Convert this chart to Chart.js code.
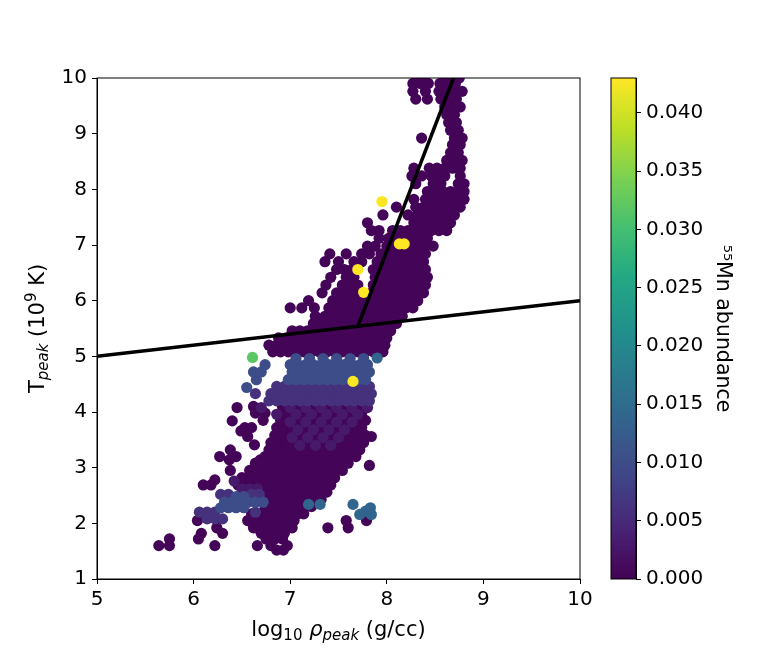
<!DOCTYPE html>
<html>
<head>
<meta charset="utf-8">
<script src="https://cdn.jsdelivr.net/npm/chart.js@4.4.1/dist/chart.umd.min.js"></script>
<style>
  html, body { margin: 0; padding: 0; background: #fff; }
  #wrap { position: relative; width: 778px; height: 650px; }
  #main { position: absolute; left: 0; top: 0; }
  #cbar { position: absolute; left: 590px; top: 0; }
</style>
</head>
<body>
<div id="wrap">
  <canvas id="main" width="778" height="650"></canvas>
  <canvas id="cbar" width="188" height="650"></canvas>
</div>
<script>
// rows: [T_peak, log10 rho values...], grouped by 55Mn abundance
const traceRows = [
  [1.52, 6.86, 6.93],
  [1.60, 5.64, 5.75, 6.22, 6.66, 6.80, 6.97],
  [1.72, 5.75, 6.05, 6.75, 6.84, 6.92],
  [1.82, 6.08, 6.30, 6.70, 6.78, 6.86, 6.94],
  [1.92, 6.24, 6.62, 6.70, 6.78, 6.86, 6.94, 7.02, 7.39, 7.60],
  [2.05, 6.04, 6.56, 6.64, 6.72, 6.80, 6.88, 6.96, 7.04, 7.58, 7.79],
  [2.17, 6.60, 6.68, 6.76, 6.84, 6.92, 7.00, 7.08, 7.14],
  [2.30, 6.74, 6.82, 6.90, 6.98, 7.06, 7.14, 7.22],
  [2.43, 6.68, 6.76, 6.84, 6.92, 7.00, 7.08, 7.16, 7.24, 7.32],
  [2.56, 6.74, 6.82, 6.90, 6.98, 7.06, 7.14, 7.22, 7.30, 7.38],
  [2.69, 6.10, 6.18, 6.46, 6.54, 6.62, 6.70, 6.78, 6.86, 6.94, 7.02, 7.10, 7.18, 7.26, 7.34, 7.42],
  [2.78, 6.22],
  [2.82, 6.50, 6.58, 6.66, 6.74, 6.82, 6.90, 6.98, 7.06, 7.14, 7.22, 7.30, 7.38, 7.46],
  [2.95, 6.38, 6.58, 6.66, 6.74, 6.82, 6.90, 6.98, 7.06, 7.14, 7.22, 7.30, 7.38, 7.46, 7.54],
  [3.04, 7.82],
  [3.08, 6.64, 6.72, 6.80, 6.88, 6.96, 7.04, 7.12, 7.20, 7.28, 7.36, 7.44, 7.52, 7.60],
  [3.14, 6.37, 6.69],
  [3.20, 6.27, 6.44, 6.74, 6.82, 6.90, 6.98, 7.06, 7.14, 7.22, 7.30, 7.38, 7.46, 7.54, 7.62, 7.68],
  [3.32, 6.38, 6.78, 6.86, 6.94, 7.02, 7.10, 7.18, 7.26, 7.34, 7.42, 7.50, 7.58, 7.66, 7.72],
  [3.41, 6.63],
  [3.45, 6.80, 6.88, 6.96, 7.04, 7.12, 7.20, 7.28, 7.36, 7.44, 7.52, 7.60, 7.68, 7.76],
  [3.56, 6.56, 7.84],
  [3.58, 6.84, 6.92, 7.00, 7.08, 7.16, 7.24, 7.32, 7.40, 7.48, 7.56, 7.64, 7.72, 7.78],
  [3.66, 6.49],
  [3.72, 6.53, 6.60, 6.86, 6.94, 7.02, 7.10, 7.18, 7.26, 7.34, 7.42, 7.50, 7.58, 7.66, 7.74],
  [3.84, 6.40],
  [3.85, 6.72, 6.90, 6.98, 7.06, 7.14, 7.22, 7.30, 7.38, 7.46, 7.54, 7.62, 7.70, 7.78],
  [3.98, 6.64, 6.74, 6.94, 7.02, 7.10, 7.18, 7.26, 7.34, 7.42, 7.50, 7.58, 7.66, 7.74],
  [4.08, 6.45],
  [4.10, 6.62, 6.92, 7.08, 7.24, 7.40, 7.56, 7.72],
  [5.08, 6.82, 6.90, 6.98, 7.06, 7.14, 7.22, 7.30, 7.38, 7.46, 7.54, 7.62, 7.70, 7.78, 7.86, 7.96],
  [5.20, 6.78, 6.86, 6.94, 7.02, 7.10, 7.18, 7.26, 7.34, 7.42, 7.50, 7.58, 7.66, 7.74, 7.82, 7.90, 7.98],
  [5.33, 6.88, 6.96, 7.04, 7.12, 7.20, 7.28, 7.36, 7.44, 7.52, 7.60, 7.68, 7.76, 7.84, 7.92, 8.00],
  [5.46, 7.02, 7.10, 7.18, 7.26, 7.34, 7.42, 7.50, 7.58, 7.66, 7.74, 7.82, 7.90, 7.98, 8.04],
  [5.59, 7.24, 7.30, 7.38, 7.46, 7.54, 7.62, 7.70, 7.78, 7.86, 7.94, 8.02, 8.10],
  [5.72, 7.26, 7.36, 7.44, 7.52, 7.60, 7.68, 7.76, 7.84, 7.92, 8.00, 8.08, 8.16],
  [5.87, 7.00, 7.12, 7.25, 7.40, 7.48, 7.56, 7.64, 7.72, 7.80, 7.88, 7.96, 8.04, 8.12, 8.20, 8.27],
  [6.00, 7.19, 7.44, 7.52, 7.60, 7.68, 7.76, 7.84, 7.92, 8.00, 8.08, 8.16, 8.24, 8.32],
  [6.14, 7.33, 7.48, 7.56, 7.64, 7.72, 7.84, 7.92, 8.00, 8.08, 8.16, 8.24, 8.32, 8.38],
  [6.28, 7.37, 7.54, 7.62, 7.70, 7.86, 7.94, 8.02, 8.10, 8.18, 8.26, 8.34, 8.40],
  [6.42, 7.42, 7.58, 7.66, 7.88, 7.96, 8.04, 8.12, 8.20, 8.28, 8.36, 8.42],
  [6.56, 7.48, 7.56, 7.64, 7.86, 7.94, 8.02, 8.10, 8.18, 8.26, 8.34, 8.40],
  [6.70, 7.36, 7.50, 7.66, 7.74, 7.90, 7.98, 8.06, 8.14, 8.22, 8.30, 8.38],
  [6.84, 7.41, 7.58, 7.74, 7.82, 7.94, 8.02, 8.10, 8.18, 8.26, 8.34, 8.40],
  [6.98, 7.80, 7.88, 8.00, 8.08, 8.16, 8.24, 8.32, 8.40, 8.48],
  [7.12, 7.92, 8.02, 8.10, 8.18, 8.26, 8.34, 8.42],
  [7.26, 7.84, 7.92, 8.06, 8.14, 8.22, 8.30, 8.38, 8.46, 8.54, 8.62],
  [7.40, 7.80, 8.28, 8.36, 8.44, 8.52, 8.60, 8.66],
  [7.54, 7.96, 8.22, 8.32, 8.40, 8.48, 8.56, 8.64, 8.70],
  [7.68, 8.10, 8.30, 8.38, 8.46, 8.54, 8.62, 8.70, 8.76],
  [7.82, 8.28, 8.40, 8.48, 8.56, 8.64, 8.72, 8.80],
  [7.96, 8.42, 8.50, 8.58, 8.66, 8.74, 8.80],
  [8.10, 8.30, 8.48, 8.56, 8.74, 8.80],
  [8.24, 8.26, 8.36, 8.46, 8.54, 8.60, 8.76],
  [8.38, 8.28, 8.44, 8.52, 8.60, 8.68, 8.76],
  [8.52, 8.62, 8.70, 8.78],
  [8.66, 8.66, 8.74],
  [8.80, 8.68, 8.76],
  [8.92, 8.36, 8.70, 8.78],
  [9.06, 8.66, 8.74],
  [9.20, 8.64, 8.72],
  [9.34, 8.62, 8.70],
  [9.48, 8.60, 8.68, 8.76],
  [9.62, 8.30, 8.42, 8.56, 8.64, 8.72],
  [9.76, 8.27, 8.40, 8.54, 8.62, 8.70, 8.78],
  [9.90, 8.27, 8.35, 8.43, 8.55, 8.63, 8.71],
  [10.0, 8.31, 8.39, 8.59, 8.67, 8.75]
];
const lowRows = [
  [2.62, 6.50, 6.58, 6.66],
  [2.76, 6.42],
  [3.40, 7.10, 7.26, 7.42],
  [3.54, 7.02, 7.18, 7.34, 7.50],
  [3.68, 7.08, 7.24, 7.40, 7.56],
  [3.82, 7.00, 7.16, 7.32, 7.48, 7.64],
  [3.96, 6.86, 7.06, 7.22, 7.38, 7.54, 7.70],
  [4.08, 6.70, 7.00, 7.16, 7.32, 7.48, 7.64, 7.80]
];
const midRows = [
  [2.08, 6.14, 6.22, 6.30],
  [2.20, 6.06, 6.14, 6.22, 6.64],
  [2.52, 6.28, 6.36, 6.60, 6.68],
  [4.20, 6.78, 6.86, 6.94, 7.02, 7.10, 7.18, 7.26, 7.34, 7.42, 7.50, 7.58, 7.66, 7.74, 7.82],
  [4.33, 6.64, 6.80, 6.88, 6.96, 7.04, 7.12, 7.20, 7.28, 7.36, 7.44, 7.52, 7.60, 7.68, 7.76, 7.84],
  [4.46, 6.86, 6.94, 7.02, 7.10, 7.18, 7.26, 7.34, 7.42, 7.50, 7.58, 7.66, 7.74, 7.82]
];
const highRows = [
  [2.28, 6.28, 6.36, 6.44, 6.52],
  [2.38, 6.32, 6.40, 6.48, 6.56, 6.64, 6.72],
  [2.48, 6.44, 6.52],
  [4.44, 6.55],
  [4.58, 6.65, 6.98, 7.06, 7.14, 7.22, 7.30, 7.38, 7.46, 7.54, 7.62, 7.70, 7.78],
  [4.72, 6.62, 6.70, 7.02, 7.10, 7.18, 7.26, 7.34, 7.42, 7.50, 7.58, 7.66, 7.74, 7.82],
  [4.85, 6.74, 7.00, 7.08, 7.16, 7.24, 7.32, 7.40, 7.48, 7.56, 7.64, 7.72, 7.80],
  [4.96, 7.06, 7.20, 7.34, 7.48, 7.62, 7.76]
];
const blueRows = [
  [2.16, 7.72, 7.84],
  [2.22, 7.78],
  [2.28, 7.83],
  [2.34, 7.19, 7.31, 7.65],
  [4.97, 7.90]
];
const greenRows = [[4.98, 6.61]];
const yellowRows = [[4.55, 7.65], [6.15, 7.76], [6.56, 7.70], [7.02, 8.13, 8.18], [7.78, 7.95]];

// abundance of each group, same order as the row lists
const groupRows = [traceRows, lowRows, midRows, highRows, blueRows, greenRows, yellowRows];
const groupMn = [0.0004, 0.003, 0.006, 0.010, 0.014, 0.032, 0.043];

// the two cut lines
const flatLineRho = [5, 10];
const flatLineT = [5, 6];
const steepLineRho = [7.70, 8.69];
const steepLineT = [5.54, 10];

const cbMax = 0.043;

const viridis = ['#440154', '#482475', '#414487', '#355f8d', '#2a788e', '#21918c',
                 '#22a884', '#44bf70', '#7ad151', '#bddf26', '#fde725'];

function hexRgb(h) {
  return [parseInt(h.slice(1, 3), 16), parseInt(h.slice(3, 5), 16), parseInt(h.slice(5, 7), 16)];
}
function cmap(v) {
  let t = Math.min(Math.max(v / cbMax, 0), 1) * 10;
  let i = Math.min(Math.floor(t), 9);
  let f = t - i;
  let a = hexRgb(viridis[i]), b = hexRgb(viridis[i + 1]);
  let c = a.map((ch, k) => Math.round(ch + (b[k] - ch) * f));
  return 'rgb(' + c.join(',') + ')';
}
function toPoints(rows) {
  let pts = [];
  rows.forEach(r => {
    for (let i = 1; i < r.length; i++) pts.push({ x: r[i], y: r[0] });
  });
  return pts;
}

const FONT = 'DejaVu Sans';
const tickFont = { family: FONT, size: 20 };

let datasets = [
  {
    data: flatLineRho.map((x, i) => ({ x: x, y: flatLineT[i] })),
    showLine: true, borderColor: '#000', borderWidth: 3.5, pointRadius: 0, order: 0, clip: 0
  },
  {
    data: steepLineRho.map((x, i) => ({ x: x, y: steepLineT[i] })),
    showLine: true, borderColor: '#000', borderWidth: 3.5, pointRadius: 0, order: 0, clip: 0
  }
];
groupRows.forEach((rows, g) => {
  datasets.push({
    data: toPoints(rows),
    backgroundColor: cmap(groupMn[g]),
    borderWidth: 0,
    pointRadius: 5.6,
    pointHoverRadius: 5.6,
    order: 10 - g,
    clip: 0
  });
});

// draws mixed text runs (sub/superscripts) centred on the current origin
function drawRuns(ctx, runs) {
  let total = 0;
  runs.forEach(r => { ctx.font = r.font; r.w = ctx.measureText(r.t).width; total += r.w; });
  let x = -total / 2;
  runs.forEach(r => { ctx.font = r.font; ctx.fillText(r.t, x, r.dy || 0); x += r.w; });
}

const base = '21px "' + FONT + '"';
const sub = '15px "' + FONT + '"';
const ital = 'italic 21px "' + FONT + '"';
const italSub = 'italic 15px "' + FONT + '"';

const framePlugin = {
  id: 'frame',
  afterDraw(chart) {
    const ctx = chart.ctx;
    const a = chart.chartArea;
    ctx.save();
    ctx.strokeStyle = '#000';
    ctx.lineWidth = 1;
    ctx.strokeRect(a.left, a.top, a.right - a.left, a.bottom - a.top);
    ctx.fillStyle = '#000';
    ctx.textBaseline = 'alphabetic';
    ctx.textAlign = 'left';
    // x title
    ctx.save();
    ctx.translate((a.left + a.right) / 2, 636);
    drawRuns(ctx, [
      { t: 'log', font: base },
      { t: '10', font: sub, dy: 4 },
      { t: ' ', font: base },
      { t: 'ρ', font: ital },
      { t: 'peak', font: italSub, dy: 4 },
      { t: ' (g/cc)', font: base }
    ]);
    ctx.restore();
    // y title
    ctx.save();
    ctx.translate(44, (a.top + a.bottom) / 2);
    ctx.rotate(-Math.PI / 2);
    drawRuns(ctx, [
      { t: 'T', font: base },
      { t: 'peak', font: italSub, dy: 4 },
      { t: ' (10', font: base },
      { t: '9', font: sub, dy: -8 },
      { t: ' K)', font: base }
    ]);
    ctx.restore();
    ctx.restore();
  }
};

const axisGrid = { drawOnChartArea: false, drawTicks: true, tickLength: 5, color: '#000', tickColor: '#000' };
const axisBorder = { display: true, color: '#000', width: 1 };

new Chart(document.getElementById('main'), {
  type: 'scatter',
  data: { datasets: datasets },
  options: {
    responsive: false,
    animation: false,
    events: [],
    layout: { padding: { left: 0, top: 78, right: 198, bottom: 0 } },
    plugins: { legend: { display: false }, tooltip: { enabled: false } },
    scales: {
      x: {
        type: 'linear', min: 5, max: 10,
        afterFit: s => { s.height = 71; },
        ticks: { stepSize: 1, font: tickFont, color: '#000', padding: 4 },
        grid: axisGrid, border: axisBorder
      },
      y: {
        type: 'linear', min: 1, max: 10,
        afterFit: s => { s.width = 97; },
        ticks: { stepSize: 1, font: tickFont, color: '#000', padding: 5 },
        grid: axisGrid, border: axisBorder
      }
    }
  },
  plugins: [framePlugin]
});

// colour bar
const gradientPlugin = {
  id: 'gradient',
  beforeDatasetsDraw(chart) {
    const ctx = chart.ctx;
    const a = chart.chartArea;
    const g = ctx.createLinearGradient(0, a.bottom, 0, a.top);
    viridis.forEach((c, i) => g.addColorStop(i / (viridis.length - 1), c));
    ctx.save();
    ctx.fillStyle = g;
    ctx.fillRect(a.left, a.top, a.right - a.left, a.bottom - a.top);
    ctx.restore();
  },
  afterDraw(chart) {
    const ctx = chart.ctx;
    const a = chart.chartArea;
    ctx.save();
    ctx.strokeStyle = '#000';
    ctx.lineWidth = 1;
    ctx.strokeRect(a.left, a.top, a.right - a.left, a.bottom - a.top);
    ctx.restore();
  }
};

new Chart(document.getElementById('cbar'), {
  type: 'scatter',
  data: { datasets: [] },
  options: {
    responsive: false,
    animation: false,
    events: [],
    layout: { padding: { left: 21, top: 78, right: 43, bottom: 71 } },
    plugins: { legend: { display: false }, tooltip: { enabled: false } },
    scales: {
      x: { display: false, min: 0, max: 1 },
      y: {
        type: 'linear', position: 'right', min: 0, max: cbMax,
        afterFit: s => { s.width = 99; },
        ticks: {
          stepSize: 0.005, includeBounds: false, font: tickFont, color: '#000', padding: 5,
          callback: v => v.toFixed(3)
        },
        grid: axisGrid, border: axisBorder,
        title: { display: true, text: '⁵⁵Mn abundance', color: '#000', font: { family: FONT, size: 20.5 }, padding: 0 }
      }
    }
  },
  plugins: [gradientPlugin]
});
</script>
</body>
</html>
